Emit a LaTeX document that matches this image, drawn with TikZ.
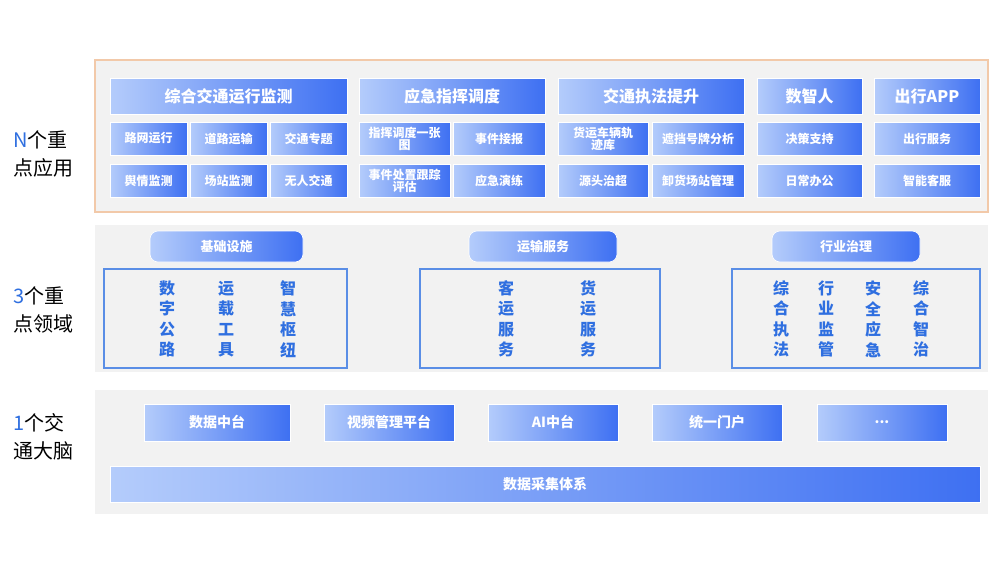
\documentclass[tikz,border=0pt]{standalone}
\usepackage{fontspec}
\setmainfont{Noto Sans CJK SC}
\definecolor{gA}{HTML}{B4CCFB}
\definecolor{gB}{HTML}{3E70F2}
\definecolor{pane}{HTML}{F2F2F2}
\definecolor{obord}{HTML}{F2C9A9}
\definecolor{bl}{HTML}{2F6FE0}
\definecolor{ob}{HTML}{5A8EE6}
\begin{document}
\begin{tikzpicture}[x=1pt,y=-1pt,
 panel/.style={fill=pane,draw=none},
 gb/.style={left color=gA,right color=gB,draw=white,line width=0.6pt},
 pill/.style={gb,rounded corners=8pt},
 outl/.style={draw=ob,line width=1.4pt,fill=none},
 lbl/.style={text=white,font=\bfseries\fontsize{#1}{#1}\selectfont,align=center},
 lbl/.default=12,
 col/.style={text=bl,font=\bfseries\fontsize{16}{20.5}\selectfont,align=center},
 side/.style={font=\fontsize{20}{28}\selectfont,align=left,anchor=west}]
\useasboundingbox (0,0) rectangle (1000,574);
\fill[white] (0,0) rectangle (1000,574);
% panels
\path[panel,draw=obord,line width=1.2pt] (95,60) rectangle (988,212);
\path[panel] (95,225) rectangle (988,372);
\path[panel] (95,390) rectangle (988,514);
% side labels
\node[side] (s1) at (10,154) {\textcolor{bl}{N}个重\\点应用};
\node[side] (s2) at (10,310) {\textcolor{bl}{3}个重\\点领域};
\node[side] (s3) at (10,437) {\textcolor{bl}{1}个交\\通大脑};
% row 1 header
\def\bx#1#2#3#4#5#6#7{\path[gb] (#2,#3) rectangle (#4,#5) node[lbl=#6] (#1) at ({(#2+#4)/2},{(#3+#5)/2}) {#7};}
\bx{h1}{110}{78}{347}{114}{16}{综合交通运行监测}
\bx{h2}{359}{78}{545}{114}{16}{应急指挥调度}
\bx{h3}{558}{78}{744}{114}{16}{交通执法提升}
\bx{h4}{757}{78}{862}{114}{16}{数智人}
\bx{h5}{874}{78}{980}{114}{16}{出行APP}
\bx{a1}{110}{122}{187}{155}{12}{路网运行}
\bx{a2}{190}{122}{267}{155}{12}{道路运输}
\bx{a3}{270}{122}{347}{155}{12}{交通专题}
\bx{a4}{359}{122}{450}{155}{12}{指挥调度一张\\图}
\bx{a5}{453}{122}{545}{155}{12}{事件接报}
\bx{a6}{558}{122}{648}{155}{12}{货运车辆轨\\迹库}
\bx{a7}{652}{122}{744}{155}{12}{遮挡号牌分析}
\bx{a8}{757}{122}{862}{155}{12}{决策支持}
\bx{a9}{874}{122}{980}{155}{12}{出行服务}
\bx{b1}{110}{164}{187}{197}{12}{舆情监测}
\bx{b2}{190}{164}{267}{197}{12}{场站监测}
\bx{b3}{270}{164}{347}{197}{12}{无人交通}
\bx{b4}{359}{164}{450}{197}{12}{事件处置跟踪\\评估}
\bx{b5}{453}{164}{545}{197}{12}{应急演练}
\bx{b6}{558}{164}{648}{197}{12}{源头治超}
\bx{b7}{652}{164}{744}{197}{12}{卸货场站管理}
\bx{b8}{757}{164}{862}{197}{12}{日常办公}
\bx{b9}{874}{164}{980}{197}{12}{智能客服}
% row 2
\path[pill] (150,231) rectangle (303,262); \node[lbl=13] (p1) at (226.5,246.5) {基础设施};
\path[pill] (469,231) rectangle (617,262); \node[lbl=13] (p2) at (543,246.5) {运输服务};
\path[pill] (772,231) rectangle (920,262); \node[lbl=13] (p3) at (846,246.5) {行业治理};
\draw[outl] (104,269) rectangle (347,368);
\draw[outl] (420,269) rectangle (660,368);
\draw[outl] (732,269) rectangle (980,368);
\node[col] (c1) at (167,319) {数\\字\\公\\路};
\node[col] (c2) at (226,319) {运\\载\\工\\具};
\node[col] (c3) at (288,319) {智\\慧\\枢\\纽};
\node[col] (c4) at (506,319) {客\\运\\服\\务};
\node[col] (c5) at (588,319) {货\\运\\服\\务};
\node[col] (c6) at (781,319) {综\\合\\执\\法};
\node[col] (c7) at (826,319) {行\\业\\监\\管};
\node[col] (c8) at (873,319) {安\\全\\应\\急};
\node[col] (c9) at (921,319) {综\\合\\智\\治};
% row 3
\bx{d1}{144}{404}{290}{441}{14}{数据中台}
\bx{d2}{324}{404}{454}{441}{14}{视频管理平台}
\bx{d3}{488}{404}{618}{441}{14}{AI中台}
\bx{d4}{652}{404}{782}{441}{14}{统一门户}
\bx{d5}{817}{404}{947}{441}{14}{...}
\bx{e1}{110}{466}{980}{502}{14}{数据采集体系}
\end{tikzpicture}
\end{document}
